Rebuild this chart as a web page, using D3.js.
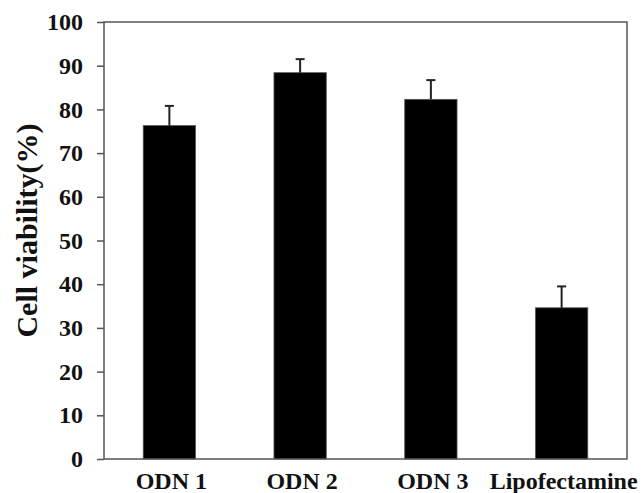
<!DOCTYPE html>
<html>
<head>
<meta charset="utf-8">
<script src="https://cdn.jsdelivr.net/npm/d3@7"></script>
<style>
  html, body { margin: 0; padding: 0; background: #fff; }
  svg text { font-family: "Liberation Serif", "Times New Roman", serif; font-weight: bold; fill: #111; }
</style>
</head>
<body>
<div id="chart"></div>
<script>
const categories = ['ODN 1', 'ODN 2', 'ODN 3', 'Lipofectamine'];
const viability = [76.3, 88.4, 82.3, 34.6];
const errors = [4.5, 3.1, 4.4, 4.9];
const yTicks = [0, 10, 20, 30, 40, 50, 60, 70, 80, 90, 100];

const width = 642;
const height = 493;
const margin = {top: 22, right: 15, bottom: 34, left: 104};

const svg = d3.select('#chart').append('svg')
    .attr('width', width)
    .attr('height', height);

const x = d3.scaleBand()
    .domain(categories)
    .range([margin.left, width - margin.right])
    .paddingInner(0.6)
    .paddingOuter(0.3);

const y = d3.scaleLinear()
    .domain([0, 100])
    .range([height - margin.bottom, margin.top]);

const data = categories.map((c, i) => ({name: c, value: viability[i], err: errors[i]}));

// bars
svg.selectAll('rect.bar')
    .data(data)
    .enter()
    .append('rect')
    .attr('class', 'bar')
    .attr('x', d => x(d.name))
    .attr('y', d => y(d.value))
    .attr('width', x.bandwidth())
    .attr('height', d => y(0) - y(d.value))
    .style('fill', '#000')
    .style('stroke', '#555')
    .style('stroke-width', 0.8);

// error bars (upper only)
const eb = svg.selectAll('g.err')
    .data(data)
    .enter()
    .append('g')
    .attr('class', 'err')
    .style('stroke', '#222')
    .style('stroke-width', 2);

eb.append('line')
    .attr('x1', d => x(d.name) + x.bandwidth() / 2)
    .attr('x2', d => x(d.name) + x.bandwidth() / 2)
    .attr('y1', d => y(d.value))
    .attr('y2', d => y(d.value + d.err));

eb.append('line')
    .attr('x1', d => x(d.name) + x.bandwidth() / 2 - 4.5)
    .attr('x2', d => x(d.name) + x.bandwidth() / 2 + 4.5)
    .attr('y1', d => y(d.value + d.err))
    .attr('y2', d => y(d.value + d.err));

// frame
svg.append('rect')
    .attr('x', margin.left)
    .attr('y', margin.top)
    .attr('width', width - margin.right - margin.left)
    .attr('height', y(0) - margin.top)
    .style('fill', 'none')
    .style('stroke', '#555')
    .style('stroke-width', 1.5);

// y axis
const yAxis = svg.append('g')
    .attr('transform', `translate(${margin.left},0)`)
    .call(d3.axisLeft(y).tickValues(yTicks).tickSize(7).tickPadding(14));

yAxis.select('.domain').remove();
yAxis.selectAll('.tick line').style('stroke', '#555').style('stroke-width', 1.5);
yAxis.selectAll('.tick text')
    .style('font-size', '24px')
    .style('font-family', '"Liberation Serif", "Times New Roman", serif')
    .style('font-weight', 'bold')
    .style('fill', '#111');

// x labels
svg.selectAll('text.xlab')
    .data(data)
    .enter()
    .append('text')
    .attr('class', 'xlab')
    .attr('x', d => x(d.name) + x.bandwidth() / 2 + 2)
    .attr('y', 489)
    .attr('text-anchor', 'middle')
    .style('font-size', '24px')
    .text(d => d.name);

// y title
svg.append('text')
    .attr('transform', `translate(37, ${(margin.top + y(0)) / 2 - 10}) rotate(-90)`)
    .attr('text-anchor', 'middle')
    .style('font-size', '30px')
    .text('Cell viability(%)');
</script>
</body>
</html>
